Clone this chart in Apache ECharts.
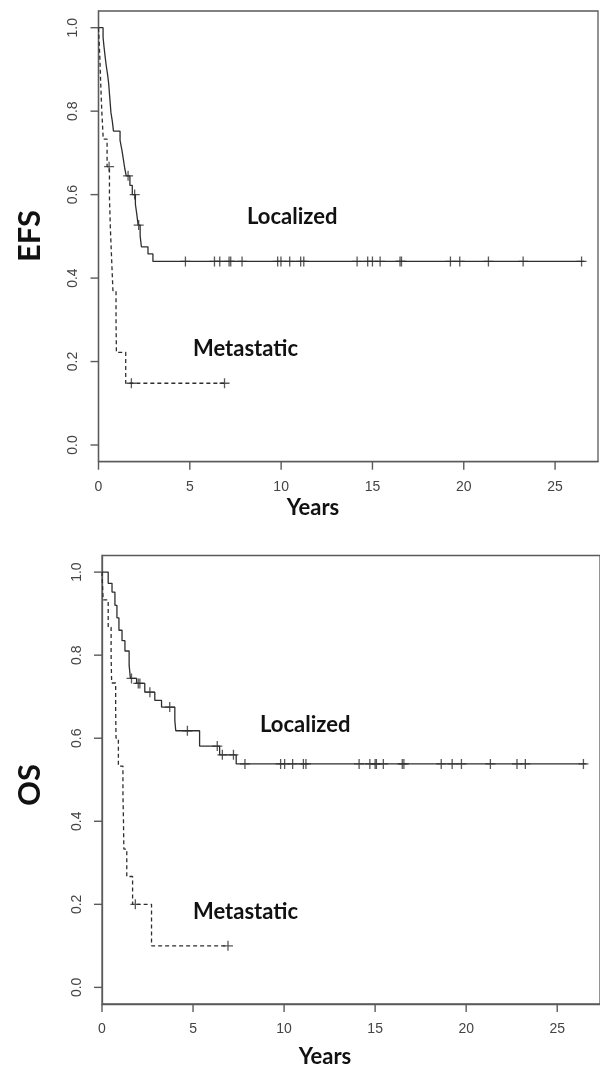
<!DOCTYPE html>
<html>
<head>
<meta charset="utf-8">
<script src="https://cdn.jsdelivr.net/npm/echarts@6/dist/echarts.min.js"></script>
<style>
  html, body { margin: 0; padding: 0; background: #fff; }
  #chart { width: 600px; height: 1068px; }
</style>
</head>
<body>
<div id="chart"></div>
<script>
// Kaplan-Meier estimates: [years, survival after the event]
const efsLocalizedSteps = [
  [0, 1], [0.25, 0.977], [0.3, 0.955], [0.36, 0.932], [0.42, 0.91], [0.5, 0.887],
  [0.56, 0.865], [0.6, 0.842], [0.64, 0.82], [0.68, 0.797], [0.76, 0.775], [0.82, 0.752],
  [1.18, 0.73], [1.28, 0.707], [1.36, 0.685], [1.44, 0.662], [1.52, 0.645],
  [1.72, 0.622], [1.85, 0.6], [2.02, 0.577], [2.1, 0.552], [2.17, 0.527],
  [2.28, 0.501], [2.35, 0.475], [2.71, 0.458], [2.98, 0.44]
];
const efsLocalizedCensored = [
  1.62, 1.98, 2.2, 4.76, 6.35, 6.64, 7.15, 7.24, 7.86, 9.81, 9.99, 10.47, 11.07, 11.24,
  14.16, 14.74, 15.0, 15.42, 16.51, 16.59, 19.27, 19.78, 21.35, 23.25, 26.45
];
const efsLocalizedEnd = 26.6;

const efsMetastaticSteps = [
  [0, 1], [0.07, 0.933], [0.12, 0.867], [0.18, 0.8], [0.26, 0.733], [0.47, 0.667],
  [0.6, 0.593], [0.65, 0.519], [0.72, 0.444], [0.79, 0.37], [0.96, 0.296],
  [0.98, 0.222], [1.49, 0.148]
];
const efsMetastaticCensored = [0.58, 1.8, 6.9];
const efsMetastaticEnd = 6.9;

const osLocalizedSteps = [
  [0, 1], [0.34, 0.973], [0.55, 0.952], [0.71, 0.92], [0.82, 0.89], [0.93, 0.86],
  [1.1, 0.835], [1.26, 0.81], [1.49, 0.776], [1.56, 0.744], [1.9, 0.732],
  [2.35, 0.711], [2.9, 0.691], [3.27, 0.675], [4.0, 0.643], [4.05, 0.618],
  [5.36, 0.581], [6.46, 0.56], [7.37, 0.538]
];
const osLocalizedCensored = [
  1.62, 1.99, 2.08, 2.63, 3.72, 4.69, 6.33, 6.61, 7.22, 7.85, 9.81, 10.03, 10.47,
  11.06, 11.2, 14.12, 14.71, 15.0, 15.07, 15.45, 16.49, 16.58, 18.63, 19.23, 19.74,
  21.33, 22.79, 23.25, 26.44
];
const osLocalizedEnd = 26.6;

const osMetastaticSteps = [
  [0, 1], [0.06, 0.933], [0.34, 0.867], [0.5, 0.8], [0.53, 0.733], [0.75, 0.667],
  [0.77, 0.6], [0.9, 0.533], [1.15, 0.467], [1.18, 0.4], [1.2, 0.333], [1.36, 0.267],
  [1.68, 0.2], [2.72, 0.1]
];
const osMetastaticCensored = [1.83, 6.92];
const osMetastaticEnd = 6.92;

const xTickValues = [0, 5, 10, 15, 20, 25];
const yTickValues = [0, 0.2, 0.4, 0.6, 0.8, 1.0];

const X_MIN = 0, X_MAX = 27.35, Y_MIN = -0.04, Y_MAX = 1.04;

// survival level in effect at time t
function levelAt(steps, t) {
  let s = steps[0][1];
  for (const [ti, si] of steps) { if (ti <= t) s = si; }
  return s;
}
function curve(steps, end) {
  return steps.concat([[end, steps[steps.length - 1][1]]]);
}
function marks(steps, times) {
  return times.map(t => [t, levelAt(steps, t)]);
}

const ink = '#2e2e2e';
const frame = '#5a5a5a';
const plus = 'path://M0,-5L0,5M-5,0L5,0';
const titleFont = 'Lato';
const TICK_LEN = 8;

function xAxisFor(gridIndex) {
  return {
    type: 'value', gridIndex, min: X_MIN, max: X_MAX, position: 'bottom',
    splitLine: { show: false },
    axisLine: { show: true, onZero: false, lineStyle: { color: frame, width: 1.3 } },
    axisTick: { show: false },
    axisLabel: { customValues: xTickValues, margin: 18, color: '#444', fontFamily: 'Liberation Sans', fontSize: 14 }
  };
}
function yAxisFor(gridIndex) {
  return {
    type: 'value', gridIndex, min: Y_MIN, max: Y_MAX, position: 'left',
    splitLine: { show: false },
    axisLine: { show: true, onZero: false, lineStyle: { color: frame, width: 1.3 } },
    axisTick: { show: false },
    axisLabel: {
      customValues: yTickValues, rotate: 90, margin: 18, color: '#444',
      fontFamily: 'Liberation Sans', fontSize: 14,
      formatter: v => Number(v).toFixed(1)
    }
  };
}
function stepLine(name, data, idx, dashed) {
  return {
    name, type: 'line', step: 'end', xAxisIndex: idx, yAxisIndex: idx,
    data, symbol: 'none', silent: true,
    lineStyle: { color: ink, width: 1.3, type: dashed ? [4, 3] : 'solid' }
  };
}
function censorMarks(name, data, idx) {
  return {
    name, type: 'scatter', xAxisIndex: idx, yAxisIndex: idx, data,
    symbol: plus, symbolSize: 10, silent: true,
    itemStyle: { color: 'rgba(0,0,0,0)', borderColor: ink, borderWidth: 1.3 }
  };
}
function label(text, x, y, size, align, rotated) {
  return {
    type: 'text', x, y, rotation: rotated ? Math.PI / 2 : 0,
    style: {
      text, fill: '#111', font: 'bold ' + size + 'px ' + titleFont,
      textAlign: align || 'left', textVerticalAlign: 'middle'
    }
  };
}

const labels = [
  label('EFS', 30, 236, 31, 'center', true),
  label('OS', 30, 785, 31, 'center', true),
  label('Localized', 247, 217, 22),
  label('Metastatic', 193, 349, 22),
  label('Localized', 260, 725, 22),
  label('Metastatic', 193, 912, 22),
  label('Years', 313, 508, 22, 'center'),
  label('Years', 325, 1057, 22, 'center')
];

const chart = echarts.init(document.getElementById('chart'), null, { renderer: 'canvas' });
chart.setOption({
  animation: false,
  backgroundColor: '#fff',
  grid: [
    { left: 98.5, top: 11, width: 499.5, height: 450.7, show: true, borderColor: frame, borderWidth: 1.3, backgroundColor: 'transparent' },
    { left: 102, top: 555.5, width: 500, height: 448.5, show: true, borderColor: frame, borderWidth: 1.3, backgroundColor: 'transparent' }
  ],
  xAxis: [xAxisFor(0), xAxisFor(1)],
  yAxis: [yAxisFor(0), yAxisFor(1)],
  series: [
    stepLine('EFS Localized', curve(efsLocalizedSteps, efsLocalizedEnd), 0, false),
    stepLine('EFS Metastatic', curve(efsMetastaticSteps, efsMetastaticEnd), 0, true),
    censorMarks('EFS Localized censored', marks(efsLocalizedSteps, efsLocalizedCensored), 0),
    censorMarks('EFS Metastatic censored', marks(efsMetastaticSteps, efsMetastaticCensored), 0),
    stepLine('OS Localized', curve(osLocalizedSteps, osLocalizedEnd), 1, false),
    stepLine('OS Metastatic', curve(osMetastaticSteps, osMetastaticEnd), 1, true),
    censorMarks('OS Localized censored', marks(osLocalizedSteps, osLocalizedCensored), 1),
    censorMarks('OS Metastatic censored', marks(osMetastaticSteps, osMetastaticCensored), 1)
  ],
  graphic: labels
});

// outward tick marks, positioned through each grid's axis scales
const tickMarks = [];
[0, 1].forEach(i => {
  xTickValues.forEach(v => {
    const p = chart.convertToPixel({ xAxisIndex: i, yAxisIndex: i }, [v, Y_MIN]);
    tickMarks.push({
      type: 'rect', silent: true, z: 100,
      shape: { x: p[0] - 0.7, y: p[1], width: 1.4, height: TICK_LEN },
      style: { fill: frame }
    });
  });
  yTickValues.forEach(v => {
    const p = chart.convertToPixel({ xAxisIndex: i, yAxisIndex: i }, [X_MIN, v]);
    tickMarks.push({
      type: 'rect', silent: true, z: 100,
      shape: { x: p[0] - TICK_LEN, y: p[1] - 0.7, width: TICK_LEN, height: 1.4 },
      style: { fill: frame }
    });
  });
});
chart.setOption({ graphic: labels.concat(tickMarks) });
</script>
</body>
</html>
